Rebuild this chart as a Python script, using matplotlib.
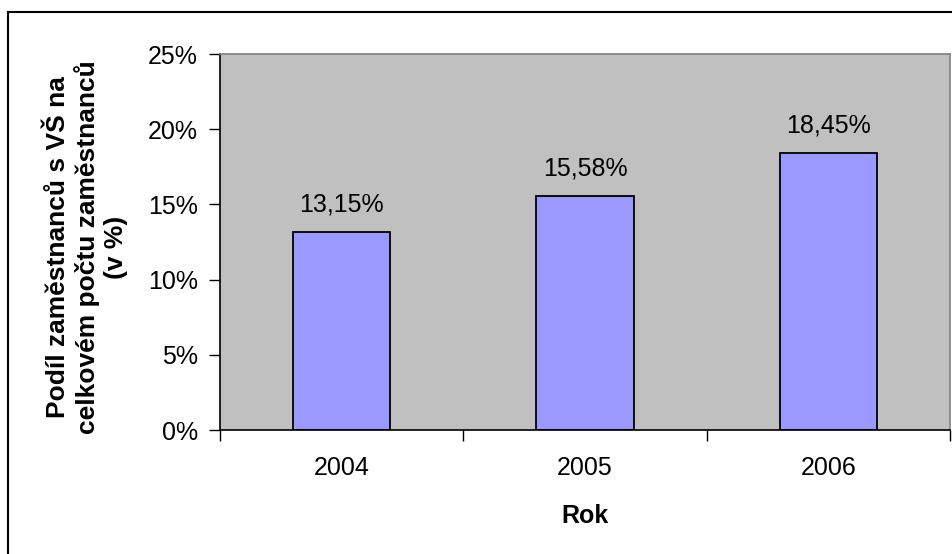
import matplotlib.pyplot as plt
from matplotlib.lines import Line2D
from matplotlib.ticker import FuncFormatter

plt.rcParams['font.family'] = ['Liberation Sans', 'DejaVu Sans']

# ---------- DATA ----------
years = ["2004", "2005", "2006"]
share_pct = [13.15, 15.58, 18.45]
y_ticks = [0, 5, 10, 15, 20, 25]

FS = 18

fig = plt.figure(figsize=(9.53, 5.54), dpi=100)
ax = fig.add_axes([220 / 953, 1 - 430 / 554, 730 / 953, 376 / 554])

# outer frame (only top and left edges fall inside the image)
fig.add_artist(Line2D([8 / 953, 8 / 953], [0, 1 - 12 / 554], transform=fig.transFigure,
                      color="black", lw=1.5))
fig.add_artist(Line2D([8 / 953, 1], [1 - 12 / 554, 1 - 12 / 554], transform=fig.transFigure,
                      color="black", lw=1.5))

ax.set_facecolor("#C0C0C0")
x = list(range(len(years)))
bars = ax.bar(x, share_pct, width=0.40, color="#9999FF", edgecolor="black", linewidth=1.3)

for xi, val in zip(x, share_pct):
    ax.annotate(f"{val:.2f}%".replace(".", ","), (xi, val), xytext=(0, 11),
                textcoords="offset points", ha="center", va="bottom", fontsize=FS)

ax.set_xlim(-0.5, len(years) - 0.5)
ax.set_ylim(0, 25)
ax.set_yticks(y_ticks)
ax.yaxis.set_major_formatter(FuncFormatter(lambda v, p: f"{v:.0f}%"))

# labels at category centres, tick marks at category boundaries
ax.set_xticks(x)
ax.set_xticklabels(years)
ax.set_xticks([i - 0.5 for i in range(len(years) + 1)], minor=True)
ax.tick_params(axis="x", which="major", length=0, pad=19, labelsize=FS)
ax.tick_params(axis="x", which="minor", length=8, width=1, direction="out")
ax.tick_params(axis="y", length=8, width=1, direction="out", pad=8, labelsize=FS)

for side in ["left", "bottom"]:
    ax.spines[side].set_color("black")
    ax.spines[side].set_linewidth(1.2)
for side in ["top", "right"]:
    ax.spines[side].set_color("#808080")
    ax.spines[side].set_linewidth(1.2)

ax.set_xlabel("Rok", fontsize=FS, fontweight="bold", labelpad=17)
ax.set_ylabel("Podíl zaměstnanců s VŠ na\ncelkovém počtu zaměstnanců\n(v %)",
              fontsize=19, fontweight="bold", linespacing=1.2, va="center")
ax.yaxis.set_label_coords(-(220 - 87) / 730, 0.5 - 5 / 376)

fig.savefig("out.png", dpi=100)
